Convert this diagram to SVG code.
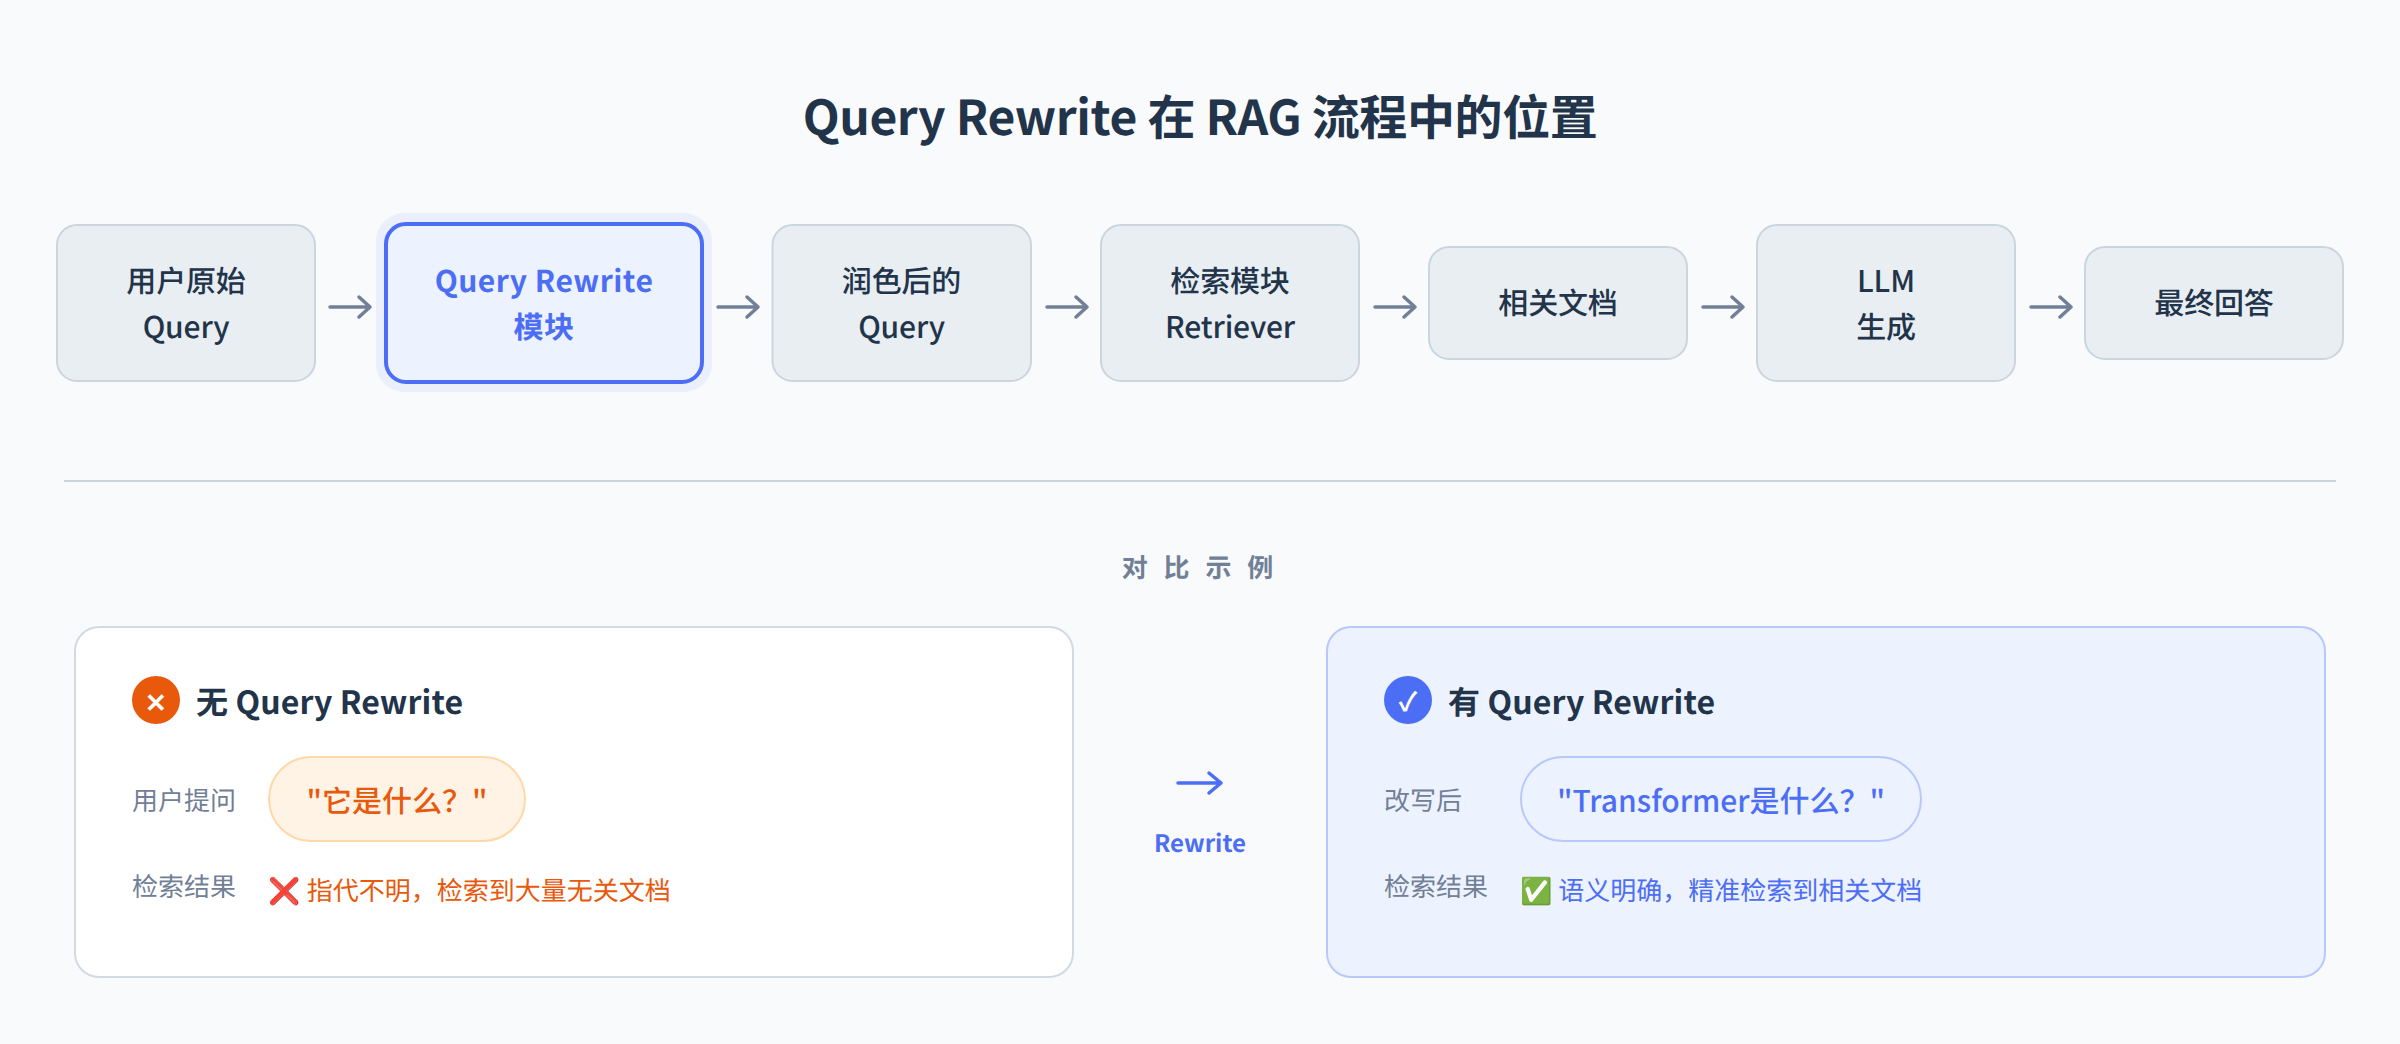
<svg xmlns="http://www.w3.org/2000/svg" width="2400" height="1044" viewBox="0 0 2400 1044">
<defs>
<style>
text{font-family:"Noto Sans CJK SC","Noto Sans",sans-serif;text-rendering:geometricPrecision}
.box{fill:#e9eef2;stroke:#cbd5e0;stroke-width:2}
.nt{font-size:30px;fill:#22344a;text-anchor:middle;font-weight:500;letter-spacing:-.15px}
.hl{font-size:30px;fill:#4c6ef5;text-anchor:middle;font-weight:700;letter-spacing:.5px}
.conn{fill:none;stroke:#718096;stroke-width:3.5;stroke-linecap:round;stroke-linejoin:round}
.lab{font-size:26px;fill:#718096}
.head{font-size:32px;font-weight:700;fill:#22344a;letter-spacing:.1px}
</style>
</defs>
<rect width="2400" height="1044" fill="#f9fafc"/>
<text x="1200" y="135" text-anchor="middle" font-size="48" font-weight="700" fill="#22344a" letter-spacing="-.4">Query Rewrite 在 RAG 流程中的位置</text>
<g id="connectors">
<path class="conn" d="M330 307H370M359 297L370 307L359 317"/>
<path class="conn" d="M718 307H758M747 297L758 307L747 317"/>
<path class="conn" d="M1047 307H1087M1076 297L1087 307L1076 317"/>
<path class="conn" d="M1375 307H1415M1404 297L1415 307L1404 317"/>
<path class="conn" d="M1703 307H1743M1732 297L1743 307L1732 317"/>
<path class="conn" d="M2031 307H2071M2060 297L2071 307L2060 317"/>
</g>
<g id="n1"><rect class="box" x="57" y="225" width="258" height="156" rx="20"/><text class="nt" x="186" y="292">用户原始</text><text class="nt" x="186" y="338">Query</text></g>
<g id="n2"><rect x="376" y="213" width="336" height="179" rx="28" fill="#4c6ef5" fill-opacity=".08"/><rect x="386" y="224" width="316" height="158" rx="20" fill="#edf2ff" stroke="#4c6ef5" stroke-width="4"/><text class="hl" x="544" y="292">Query Rewrite</text><text class="hl" x="544" y="338">模块</text></g>
<g id="n3"><rect class="box" x="772.5" y="225" width="258.5" height="156" rx="20"/><text class="nt" x="901.5" y="292">润色后的</text><text class="nt" x="901.5" y="338">Query</text></g>
<g id="n4"><rect class="box" x="1101" y="225" width="258" height="156" rx="20"/><text class="nt" x="1230" y="292">检索模块</text><text class="nt" x="1230" y="338">Retriever</text></g>
<g id="n5"><rect class="box" x="1429" y="247" width="258" height="112" rx="20"/><text class="nt" x="1558" y="314">相关文档</text></g>
<g id="n6"><rect class="box" x="1757" y="225" width="258" height="156" rx="20"/><text class="nt" x="1886" y="292">LLM</text><text class="nt" x="1886" y="338">生成</text></g>
<g id="n7"><rect class="box" x="2085" y="247" width="258" height="112" rx="20"/><text class="nt" x="2214" y="314">最终回答</text></g>
<line x1="64" y1="481" x2="2336" y2="481" stroke="#cbd5e0" stroke-width="2"/>
<text x="1200" y="577" text-anchor="middle" font-size="26" font-weight="700" fill="#718096" letter-spacing="5">对 比 示 例</text>
<g id="left-card">
<rect x="75" y="627" width="998" height="350" rx="24" fill="#fff" stroke="#d3d9e3" stroke-width="2"/>
<circle cx="156" cy="700" r="24" fill="#e8590c"/>
<text x="156" y="712" text-anchor="middle" font-size="26" font-weight="700" fill="#fff">✕</text>
<text class="head" x="196" y="714">无 Query Rewrite</text>
<text class="lab" x="132" y="810">用户提问</text>
<rect x="269" y="757" width="256" height="84" rx="42" fill="#fff3e6" stroke="#ffd8a8" stroke-width="2"/>
<text x="397" y="812" text-anchor="middle" font-size="30" font-weight="500" fill="#e8590c">"它是什么？"</text>
<text class="lab" x="132" y="896">检索结果</text>
<text x="268.5" y="900" font-size="26" fill="#e8590c">❌ 指代不明，检索到大量无关文档</text>
</g>
<g id="mid">
<path d="M1178 783H1221M1209 773L1221 783L1209 793" fill="none" stroke="#4c6ef5" stroke-width="3.5" stroke-linecap="round" stroke-linejoin="round"/>
<text x="1200" y="852" text-anchor="middle" font-size="24" font-weight="700" fill="#4c6ef5">Rewrite</text>
</g>
<g id="right-card">
<rect x="1327" y="627" width="998" height="350" rx="24" fill="#edf2ff" stroke="#b8c8fb" stroke-width="2"/>
<circle cx="1408" cy="700" r="24" fill="#4c6ef5"/>
<text x="1408" y="711" text-anchor="middle" font-size="26" font-weight="700" fill="#fff">✓</text>
<text class="head" x="1448" y="714">有 Query Rewrite</text>
<text class="lab" x="1384" y="810">改写后</text>
<rect x="1521" y="757" width="400" height="84" rx="42" fill="#edf2ff" stroke="#b8c8fb" stroke-width="2"/>
<text x="1721" y="812" text-anchor="middle" font-size="30" font-weight="500" fill="#4c6ef5">"Transformer是什么？"</text>
<text class="lab" x="1384" y="896">检索结果</text>
<text x="1520" y="900" font-size="26" fill="#4c6ef5">✅ 语义明确，精准检索到相关文档</text>
</g>
</svg>
